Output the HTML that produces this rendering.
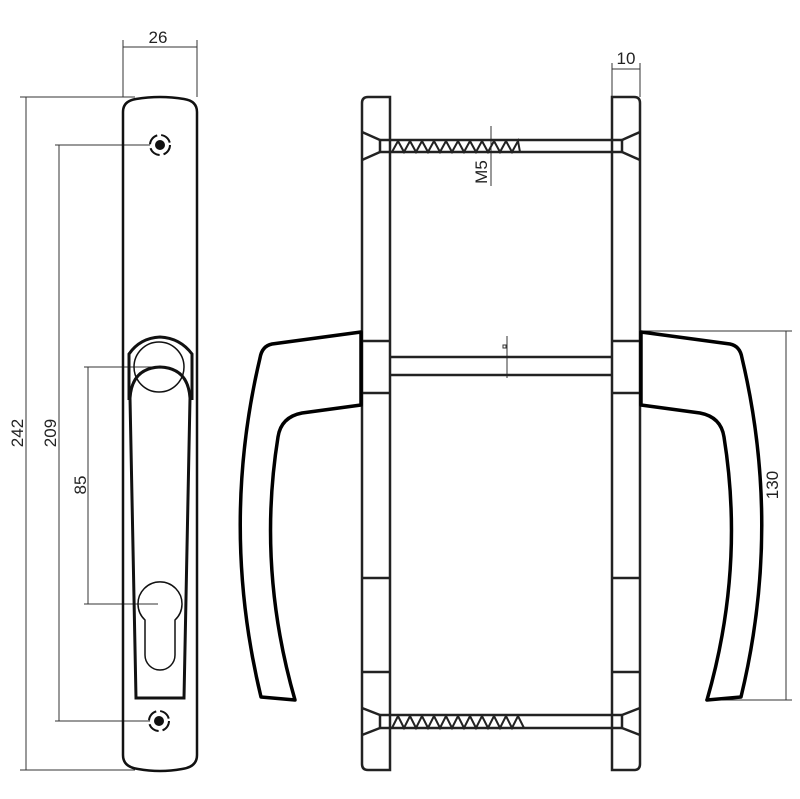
<!DOCTYPE html>
<html><head><meta charset="utf-8"><style>
html,body{margin:0;padding:0;background:#fff;}
svg{display:block;}
text{font-family:"Liberation Sans",sans-serif;font-size:17px;fill:#222;}
</style></head><body>
<svg width="800" height="799" viewBox="0 0 800 799" xmlns="http://www.w3.org/2000/svg">
<g stroke="#333" stroke-width="1" fill="none">
<!-- dims front -->
<line x1="123" y1="40" x2="123" y2="97"/><line x1="197" y1="40" x2="197" y2="97"/>
<line x1="123" y1="47" x2="197" y2="47"/>
<line x1="20" y1="97" x2="135" y2="97"/><line x1="20" y1="770" x2="135" y2="770"/>
<line x1="26" y1="97" x2="26" y2="770"/>
<line x1="55" y1="145" x2="150" y2="145"/><line x1="55" y1="721" x2="150" y2="721"/>
<line x1="59" y1="145" x2="59" y2="721"/>
<line x1="84" y1="367" x2="160" y2="367"/><line x1="84" y1="604" x2="158" y2="604"/>
<line x1="88" y1="367" x2="88" y2="604"/>
<!-- 10 -->
<line x1="612" y1="63" x2="612" y2="97"/><line x1="640" y1="63" x2="640" y2="97"/>
<line x1="612" y1="69" x2="640" y2="69"/>
<!-- 130 -->
<line x1="640" y1="331" x2="792" y2="331"/><line x1="705" y1="700" x2="792" y2="700"/>
<line x1="786" y1="331" x2="786" y2="700"/>
<!-- M5 -->
<line x1="491" y1="126" x2="491" y2="186"/>
<line x1="507" y1="336" x2="507" y2="378"/>
<rect x="503" y="345" width="3" height="3"/>
</g>
<text x="158" y="43" text-anchor="middle">26</text>
<text x="626" y="64" text-anchor="middle">10</text>
<text transform="translate(23,433) rotate(-90)" text-anchor="middle">242</text>
<text transform="translate(56,433) rotate(-90)" text-anchor="middle">209</text>
<text transform="translate(86,485) rotate(-90)" text-anchor="middle">85</text>
<text transform="translate(778,485) rotate(-90)" text-anchor="middle">130</text>
<text transform="translate(487,172) rotate(-90)" text-anchor="middle">M5</text>

<!-- front plate -->
<g stroke="#111" fill="none">
<path stroke-width="2.5" d="M123,112 Q123,101 136,99 Q160,95 184,99 Q197,101 197,112 L197,755 Q197,767 182,769 Q160,773 138,769 Q123,767 123,755 Z"/>
<circle cx="160" cy="145" r="5" fill="#111" stroke="none"/>
<circle cx="160" cy="145" r="10" stroke-width="2" stroke-dasharray="12 4"/>
<circle cx="159" cy="721" r="5" fill="#111" stroke="none"/>
<circle cx="159" cy="721" r="10" stroke-width="2" stroke-dasharray="12 4"/>
<path stroke-width="3" d="M129,400 L129,354 Q140,338 160,337 Q180,338 192,354 L192,400"/>
<circle cx="159" cy="367" r="25" stroke-width="1.5"/>
<path stroke-width="3" d="M130,398 Q132,368 160,367 Q188,368 190,398 L184,698 L136,698 Z"/>
<path stroke-width="1.5" d="M145,620 A22,22 0 1 1 175,620 L175,655 A15,15 0 0 1 145,655 Z"/>
</g>

<!-- side view -->
<g stroke="#222" stroke-width="2.5" fill="none">
<path d="M390,97 L368,97 Q362,97 362,103 L362,764 Q362,770 368,770 L390,770 Z"/>
<path d="M612,97 L634,97 Q640,97 640,103 L640,764 Q640,770 634,770 L612,770 Z"/>
<line x1="362" y1="341" x2="390" y2="341"/><line x1="362" y1="393" x2="390" y2="393"/>
<line x1="362" y1="578" x2="390" y2="578"/><line x1="362" y1="672" x2="390" y2="672"/>
<line x1="612" y1="341" x2="640" y2="341"/><line x1="612" y1="393" x2="640" y2="393"/>
<line x1="612" y1="578" x2="640" y2="578"/><line x1="612" y1="672" x2="640" y2="672"/>
<!-- top bolt -->
<line x1="380" y1="140" x2="622" y2="140"/><line x1="380" y1="152" x2="622" y2="152"/>
<line x1="380" y1="140" x2="380" y2="152"/><line x1="622" y1="140" x2="622" y2="152"/>
<polyline points="362,132 380,140"/><polyline points="362,160 380,152"/>
<polyline points="640,132 622,140"/><polyline points="640,160 622,152"/>
<!-- bottom bolt -->
<line x1="380" y1="715" x2="622" y2="715"/><line x1="380" y1="728" x2="622" y2="728"/>
<line x1="380" y1="715" x2="380" y2="728"/><line x1="622" y1="715" x2="622" y2="728"/>
<polyline points="362,708 380,715"/><polyline points="362,735 380,728"/>
<polyline points="640,708 622,715"/><polyline points="640,735 622,728"/>
<!-- spindle -->
<line x1="390" y1="357" x2="612" y2="357"/><line x1="390" y1="375" x2="612" y2="375"/>
</g>
<g stroke="#222" stroke-width="2" fill="none">
<polyline points="392,152 398,141 404,152 410,141 416,152 422,141 428,152 434,141 440,152 446,141 452,152 458,141 464,152 470,141 476,152 482,141 488,152 494,141 500,152 506,141 512,152 518,141 520,152"/>
<polyline points="392,728 398,716 404,728 410,716 416,728 422,716 428,728 434,716 440,728 446,716 452,728 458,716 464,728 470,716 476,728 482,716 488,728 494,716 500,728 506,716 512,728 518,716 524,728"/>
</g>
<!-- handles -->
<g stroke="#000" stroke-width="3.5" fill="#fff" stroke-linejoin="round">
<path d="M361,332 L272,344 Q262,346 260,358 Q220,527 261,697 L295,700 Q257,568 278,437 Q281,417 302,413 L361,405 Z"/>
<path transform="translate(1002,0) scale(-1,1)" d="M361,332 L272,344 Q262,346 260,358 Q220,527 261,697 L295,700 Q257,568 278,437 Q281,417 302,413 L361,405 Z"/>
</g>
</svg>
</body></html>
